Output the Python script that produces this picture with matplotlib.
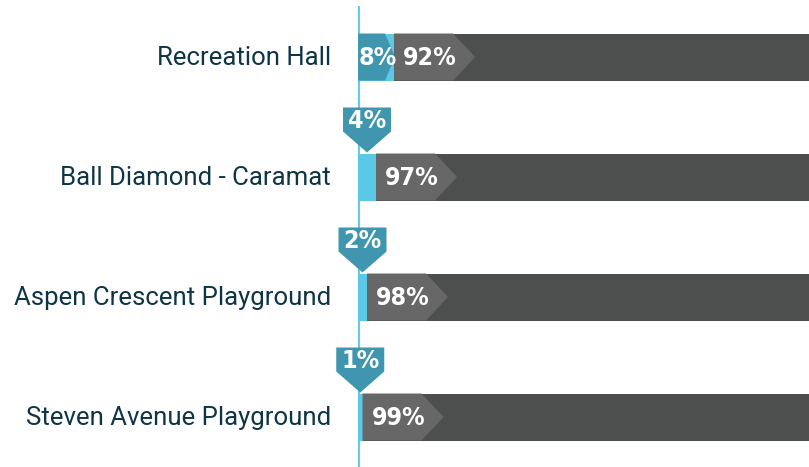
import matplotlib
matplotlib.use("Agg")
import matplotlib.pyplot as plt
from matplotlib.patches import Polygon
from matplotlib import font_manager

categories = ["Recreation Hall", "Ball Diamond - Caramat",
              "Aspen Crescent Playground", "Steven Avenue Playground"]
first_vals = [8, 4, 2, 1]
second_vals = [92, 97, 98, 99]
first_labels = ["8%", "4%", "2%", "1%"]
second_labels = ["92%", "97%", "98%", "99%"]

C_LIGHT = "#5bc8e8"
C_TEAL = "#3f96ae"
C_GREYBOX = "#666766"
C_DARK = "#4d4f4e"
C_TEXT = "#0e3545"

names = {f.name for f in font_manager.fontManager.ttflist}
if "Liberation Sans Narrow" in names:
    PCT_FONT = dict(family="Liberation Sans Narrow", fontweight="bold", fontsize=21)
else:
    PCT_FONT = dict(family="DejaVu Sans", fontweight="bold", fontstretch="condensed", fontsize=18)

W, H = 809, 467
fig = plt.figure(figsize=(W / 100, H / 100), dpi=100)
ax_left = 358 / W
ax = fig.add_axes([ax_left, 0, 1 - ax_left, 1])
ax.set_xlim(0, 100)
row_px = 120.0
first_px = 57.0
ax.set_ylim((H - first_px) / row_px, -first_px / row_px)
ax.axis("off")

# pixel -> data conversions
px_x = 100 / (W - 358)
px_y = 1 / row_px
bar_h = 47 * px_y

n = len(categories)
ax.barh(range(n), first_vals, height=bar_h, color=C_LIGHT, zorder=2)
ax.barh(range(n), second_vals, left=first_vals, height=bar_h, color=C_DARK, zorder=2)

ax.axvline(0, ymin=0, ymax=1 - 7 / H, color=C_LIGHT, lw=2, zorder=3.5)

def arrow_box(x0, yc, rect_w, tip_w, color, z):
    hh = bar_h / 2
    pts = [(x0, yc - hh), (x0 + rect_w, yc - hh), (x0 + rect_w + tip_w, yc),
           (x0 + rect_w, yc + hh), (x0, yc + hh)]
    ax.add_patch(Polygon(pts, closed=True, color=color, zorder=z, lw=0))

for i in range(n):
    f = first_vals[i]
    # grey label box for second segment
    arrow_box(f, i, 59 * px_x, 22 * px_x, C_GREYBOX, 3)
    ax.text(f + 9 * px_x, i + 1 * px_y, second_labels[i], color="white",
            ha="left", va="center", zorder=6, **PCT_FONT)
    if f * (W - 358) / 100 >= 30:
        arrow_box(0, i, 27 * px_x, 10 * px_x, C_TEAL, 4)
        ax.text(1 * px_x, i + 1 * px_y, first_labels[i], color="white",
                ha="left", va="center", zorder=6, **PCT_FONT)
    else:
        xc = f / 2
        top = i - bar_h / 2
        half_w = 24 * px_x
        pts = [(xc - half_w, top - 46 * px_y), (xc + half_w, top - 46 * px_y),
               (xc + half_w, top - 22 * px_y), (xc, top - 1 * px_y),
               (xc - half_w, top - 22 * px_y)]
        ax.add_patch(Polygon(pts, closed=True, color=C_TEAL, zorder=4, lw=0,
                             clip_on=False))
        ax.text(xc, top - 32 * px_y, first_labels[i], color="white",
                ha="center", va="center", zorder=6, clip_on=False, **PCT_FONT)
    ax.text(-27 * px_x, i + 1 * px_y, categories[i], color=C_TEXT, ha="right",
            va="center", fontsize=18.5, family="Roboto", clip_on=False)

fig.savefig("out.png", dpi=100)
